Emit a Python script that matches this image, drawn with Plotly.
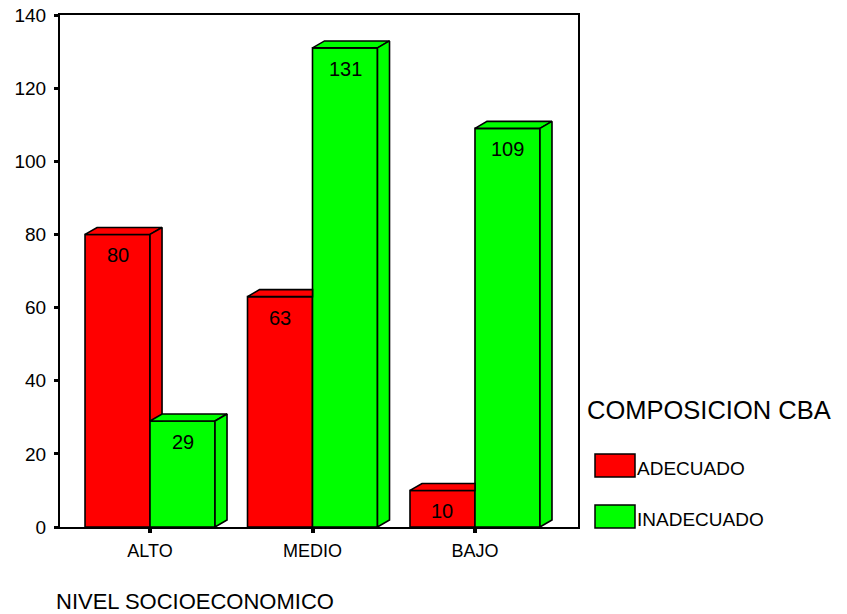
import plotly.graph_objects as go

categories = ["ALTO", "MEDIO", "BAJO"]
adecuado = [80, 63, 10]
inadecuado = [29, 131, 109]
series_names = ["ADECUADO", "INADECUADO"]
legend_title = "COMPOSICION CBA"
x_title = "NIVEL SOCIOECONOMICO"
y_ticks = [0, 20, 40, 60, 80, 100, 120, 140]

RED = "#FF0000"
GREEN = "#00FF00"
FONT = "Arial, Liberation Sans, sans-serif"

BAR_W = 0.4      # each bar width in category units (bargap 0.2, 2 bars)
DX = 0.074       # depth offset in x units
DY = 1.91        # depth offset in y units

xs = list(range(len(categories)))

fig = go.Figure()
fig.add_trace(go.Bar(x=xs, y=adecuado, name=series_names[0],
                     marker=dict(color=RED, line=dict(color="black", width=1.6)),
                     showlegend=False))
fig.add_trace(go.Bar(x=xs, y=inadecuado, name=series_names[1],
                     marker=dict(color=GREEN, line=dict(color="black", width=1.6)),
                     showlegend=False))


def poly(px, py, color):
    fig.add_trace(go.Scatter(x=px + [px[0]], y=py + [py[0]], mode="lines",
                             fill="toself", fillcolor=color,
                             line=dict(color="black", width=1.6),
                             hoverinfo="skip", showlegend=False))


# 3D faces for the red (back-left) bars, clipped by the green front faces
for i, (r, g) in enumerate(zip(adecuado, inadecuado)):
    xl = i - BAR_W
    xr = i
    if g >= r + DY:
        poly([xl, xr, xr, xl + DX], [r, r, r + DY, r + DY], RED)
    else:
        poly([xl, xr, xr + DX, xl + DX], [r, r, r + DY, r + DY], RED)
        poly([xr, xr, xr + DX, xr + DX], [g, r, r + DY, g], RED)

# 3D faces for the green bars
for i, g in enumerate(inadecuado):
    xl = i
    xr = i + BAR_W
    poly([xl, xr, xr + DX, xl + DX], [g, g, g + DY, g + DY], GREEN)
    poly([xr, xr, xr + DX, xr + DX], [0, g, g + DY, DY], GREEN)

# value labels
for i, (r, g) in enumerate(zip(adecuado, inadecuado)):
    for xc, v in ((i - BAR_W / 2, r), (i + BAR_W / 2, g)):
        fig.add_annotation(x=xc, y=v, text=str(v), showarrow=False,
                           yshift=-21, font=dict(size=20, color="black", family=FONT))


def px2paper_x(p):
    return (p - 60) / 518.0


def px2paper_y(p):
    return (527 - p) / 512.0


# legend (manual, SPSS style)
fig.add_annotation(xref="paper", yref="paper", x=px2paper_x(585), y=px2paper_y(410),
                   xanchor="left", yanchor="middle", text=legend_title, showarrow=False,
                   font=dict(size=25.5, color="black", family=FONT))
for name, color, top in ((series_names[0], RED, 454), (series_names[1], GREEN, 505)):
    fig.add_shape(type="rect", xref="paper", yref="paper",
                  x0=px2paper_x(595), x1=px2paper_x(635),
                  y0=px2paper_y(top + 23), y1=px2paper_y(top),
                  fillcolor=color, line=dict(color="black", width=1.5))
    fig.add_annotation(xref="paper", yref="paper", x=px2paper_x(635), y=px2paper_y(top + 14),
                       xanchor="left", yanchor="middle", text=name, showarrow=False,
                       font=dict(size=19, color="black", family=FONT))

fig.add_annotation(xref="paper", yref="paper", x=px2paper_x(54), y=px2paper_y(601),
                   xanchor="left", yanchor="middle", text=x_title, showarrow=False,
                   font=dict(size=22, color="black", family=FONT))

fig.update_layout(
    width=847, height=614,
    margin=dict(l=60, r=269, t=15, b=87),
    paper_bgcolor="white", plot_bgcolor="white",
    barmode="group", bargap=0.2, bargroupgap=0,
    font=dict(family=FONT, color="black"),
    showlegend=False,
)
fig.update_xaxes(range=[-0.554, 2.634], tickvals=xs, ticktext=categories,
                 automargin=False,
                 showgrid=False, zeroline=False, showline=True, mirror=True,
                 linecolor="black", linewidth=2, ticks="outside", ticklen=4,
                 tickwidth=4, tickcolor="black", ticklabelstandoff=2,
                 tickfont=dict(size=18, family=FONT, color="black"))
fig.update_yaxes(range=[0, 140], tickvals=y_ticks, showgrid=False, zeroline=False,
                 automargin=False,
                 showline=True, mirror=True, linecolor="black", linewidth=2,
                 ticks="outside", ticklen=4, tickwidth=3, tickcolor="black",
                 ticklabelstandoff=4,
                 tickfont=dict(size=19, family=FONT, color="black"))

fig.write_html("out.html", config={"displayModeBar": False},
               post_script="document.body.style.margin='0';document.body.style.padding='0';")
